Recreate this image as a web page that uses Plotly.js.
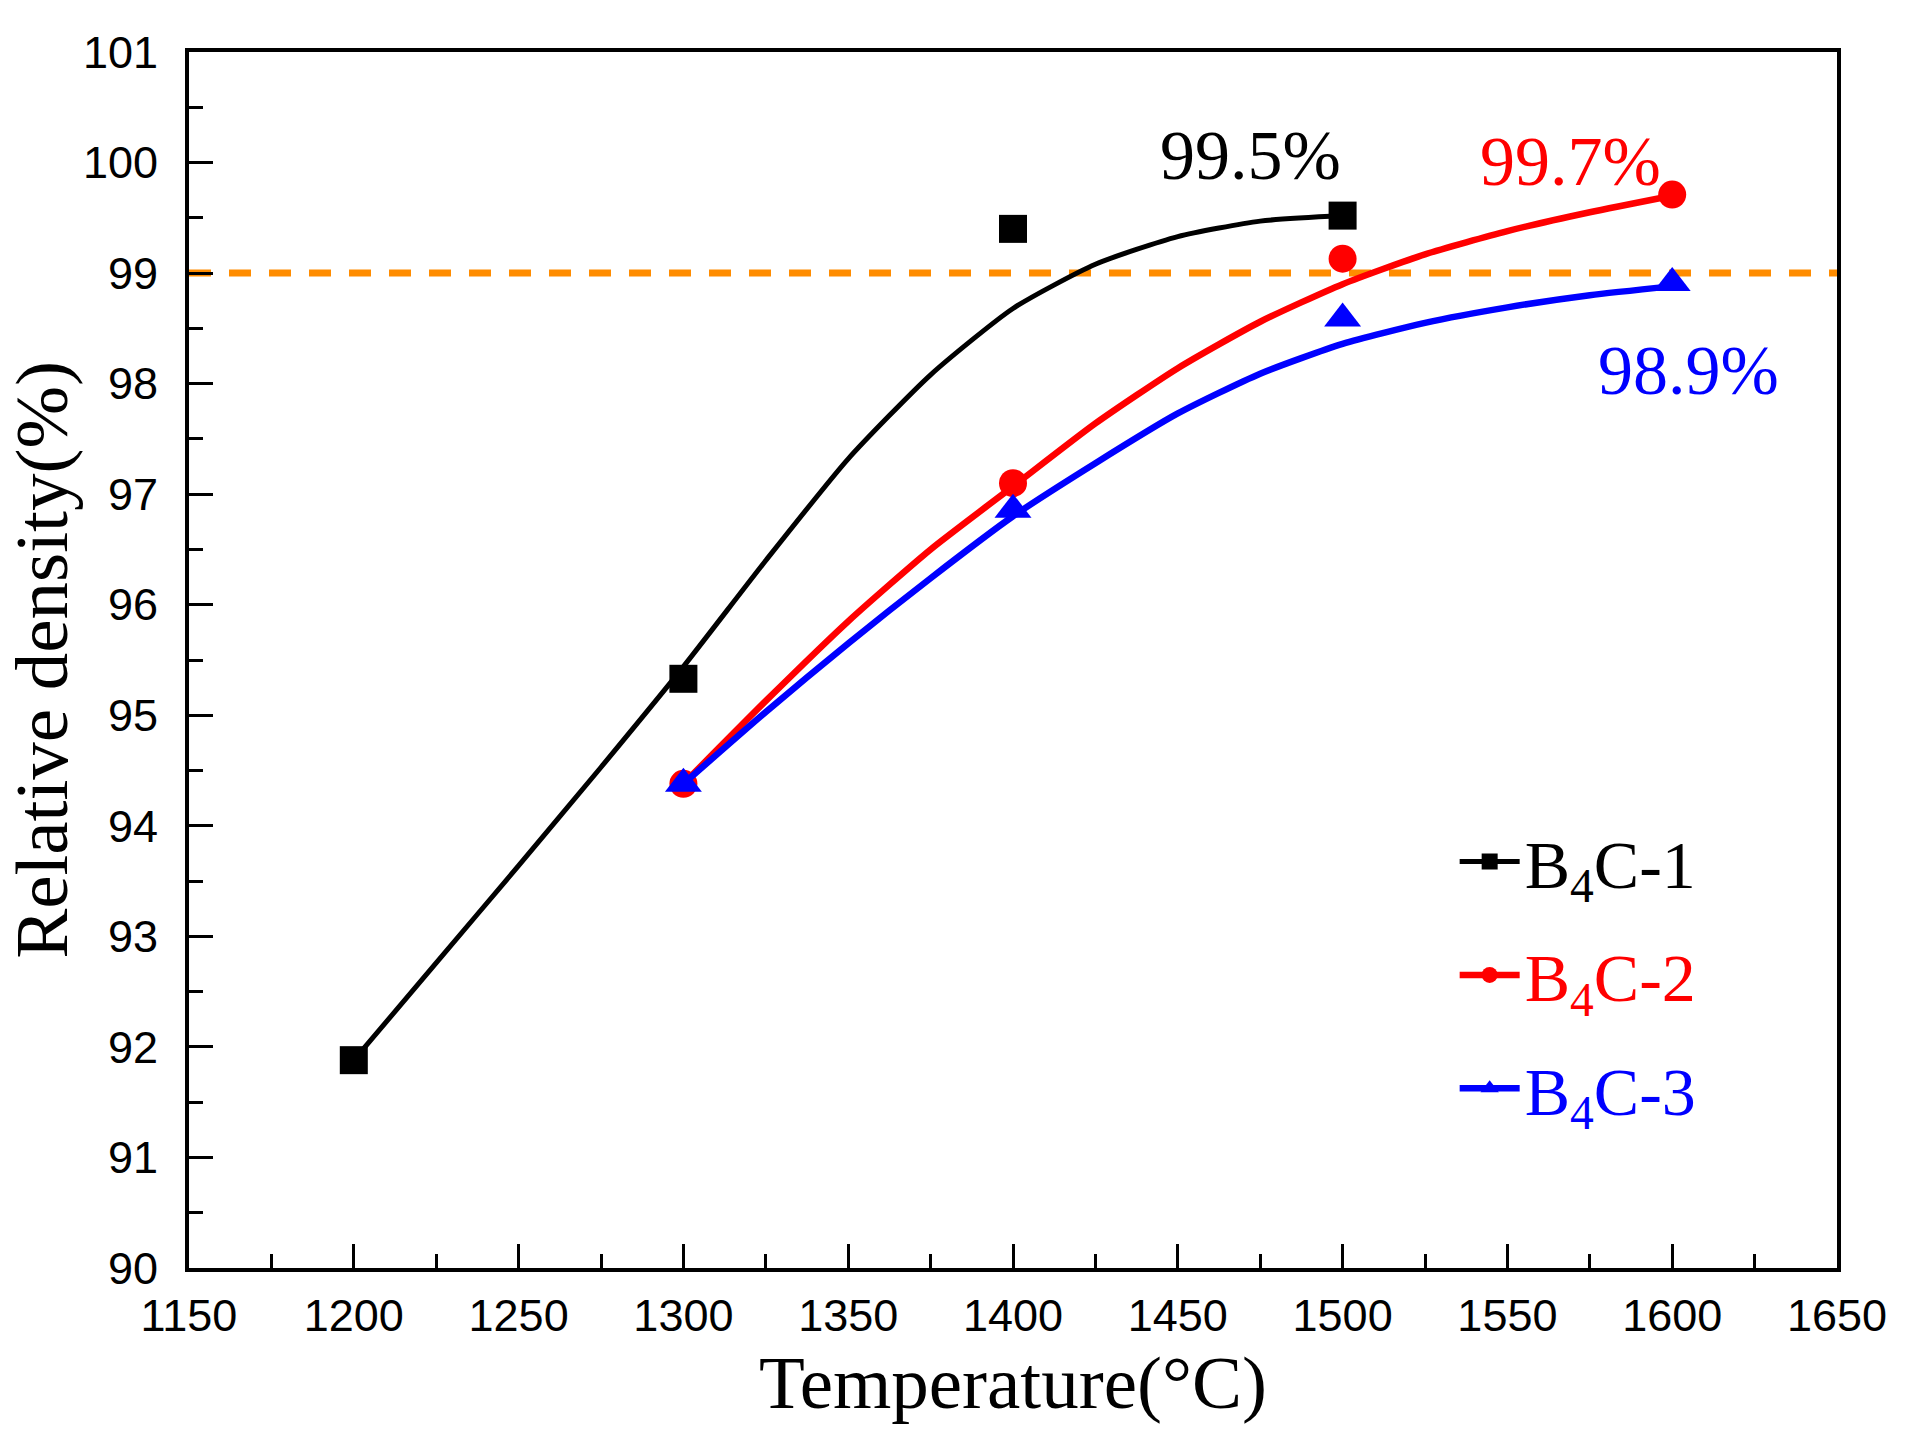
<!DOCTYPE html>
<html>
<head>
<meta charset="utf-8">
<script src="https://cdn.plot.ly/plotly-3.0.1.min.js"></script>
<style>html,body{margin:0;padding:0;background:#fff;}#chart{width:1915px;height:1435px;}</style>
</head>
<body>
<div id="chart"></div>
<script>
// measured points
const temps1 = [1200, 1300, 1400, 1500];
const dens1 = [91.88, 95.33, 99.4, 99.52];
const temps23 = [1300, 1400, 1500, 1600];
const dens2 = [94.38, 97.1, 99.13, 99.71];
const dens3 = [94.38, 96.86, 98.59, 98.91];

// fitted curves
const fitT1 = [1200, 1225, 1250, 1275, 1300, 1325, 1350, 1375, 1400, 1425, 1450, 1475, 1500];
const fit1 = [91.88, 92.76, 93.64, 94.53, 95.44, 96.40, 97.32, 98.08, 98.68, 99.08, 99.33, 99.47, 99.52];
const fitT23 = [1300, 1325, 1350, 1375, 1400, 1425, 1450, 1475, 1500, 1525, 1550, 1575, 1600];
const fit2 = [94.38, 95.13, 95.85, 96.50, 97.07, 97.64, 98.14, 98.56, 98.90, 99.17, 99.38, 99.55, 99.70];
const fit3 = [94.38, 95.03, 95.65, 96.24, 96.80, 97.28, 97.73, 98.09, 98.36, 98.55, 98.69, 98.80, 98.88];

const names = ['B<sub>4</sub>C-1', 'B<sub>4</sub>C-2', 'B<sub>4</sub>C-3'];
const colors = ['#000000', '#ff0000', '#0000ff'];
const symbols = ['square', 'circle', 'triangle-up'];
const threshold = 99;
const labels = ['99.5%', '99.7%', '98.9%'];

const serif = 'Liberation Serif, Times New Roman, serif';
const sans = 'Liberation Sans, Arial, sans-serif';

function gapped(arr) { // insert gaps so the legend entry shows a line but no segments are drawn
  const out = [];
  arr.forEach((v, i) => { if (i) out.push(null); out.push(v); });
  return out;
}

const series = [
  {fx: fitT1, fy: fit1, px: temps1, py: dens1, lw: 5, ms: 28},
  {fx: fitT23, fy: fit2, px: temps23, py: dens2, lw: 6.5, ms: 28},
  {fx: fitT23, fy: fit3, px: temps23, py: dens3, lw: 6.5, ms: 32}
];

const traces = [];
series.forEach((s, i) => {
  traces.push({
    x: s.fx, y: s.fy, type: 'scatter', mode: 'lines',
    line: {color: colors[i], width: s.lw, shape: 'spline', smoothing: 0.6},
    showlegend: false, legendgroup: 'g' + i, hoverinfo: 'skip'
  });
  traces.push({
    x: gapped(s.px), y: gapped(s.py), type: 'scatter', mode: 'lines+markers',
    connectgaps: false,
    name: '<span style="color:' + colors[i] + '">' + names[i] + '</span>',
    legendgroup: 'g' + i,
    line: {color: colors[i], width: s.lw},
    marker: {color: colors[i], symbol: symbols[i], size: s.ms}
  });
});

const layout = {
  width: 1915, height: 1435,
  margin: {l: 189, r: 78, t: 52, b: 167},
  paper_bgcolor: '#fff', plot_bgcolor: '#fff',
  showlegend: true,
  legend: {
    x: 0.768, y: 0.376, xanchor: 'left', yanchor: 'top',
    font: {family: serif, size: 68, color: '#000'},
    bgcolor: 'rgba(0,0,0,0)', itemwidth: 60, tracegroupgap: 22
  },
  xaxis: {
    range: [1150, 1650], dtick: 50, tick0: 1150,
    ticks: 'inside', ticklen: 24, tickwidth: 3, tickcolor: '#000',
    minor: {ticks: 'inside', ticklen: 14, tickwidth: 3, dtick: 25, tickcolor: '#000'},
    showline: true, linewidth: 4, linecolor: '#000', mirror: true,
    showgrid: false, zeroline: false,
    tickfont: {family: sans, size: 45, color: '#000'},
    ticklabelstandoff: 5,
    title: {text: 'Temperature(°C)', font: {family: serif, size: 75, color: '#000'}, standoff: 6}
  },
  yaxis: {
    range: [90, 101], dtick: 1, tick0: 90,
    ticks: 'inside', ticklen: 24, tickwidth: 3, tickcolor: '#000',
    minor: {ticks: 'inside', ticklen: 14, tickwidth: 3, dtick: 0.5, tickcolor: '#000'},
    showline: true, linewidth: 4, linecolor: '#000', mirror: true,
    showgrid: false, zeroline: false,
    tickfont: {family: sans, size: 45, color: '#000'},
    ticklabelstandoff: 18,
    title: {text: 'Relative density(%)', font: {family: serif, size: 75, color: '#000'}, standoff: 0}
  },
  shapes: [{
    type: 'line', xref: 'paper', x0: 0, x1: 1, yref: 'y', y0: threshold, y1: threshold,
    line: {color: '#ff8c00', width: 7, dash: '22px,18px'}, layer: 'below'
  }],
  annotations: [
    {x: temps1[3] - 28, y: 100.06, text: labels[0], showarrow: false, font: {family: serif, size: 70, color: colors[0]}},
    {x: temps23[3] - 31, y: 100.01, text: labels[1], showarrow: false, font: {family: serif, size: 70, color: colors[1]}},
    {x: temps23[3] + 5, y: 98.12, text: labels[2], showarrow: false, font: {family: serif, size: 70, color: colors[2]}}
  ]
};

Plotly.newPlot('chart', traces, layout, {staticPlot: true, displayModeBar: false});
</script>
</body>
</html>
